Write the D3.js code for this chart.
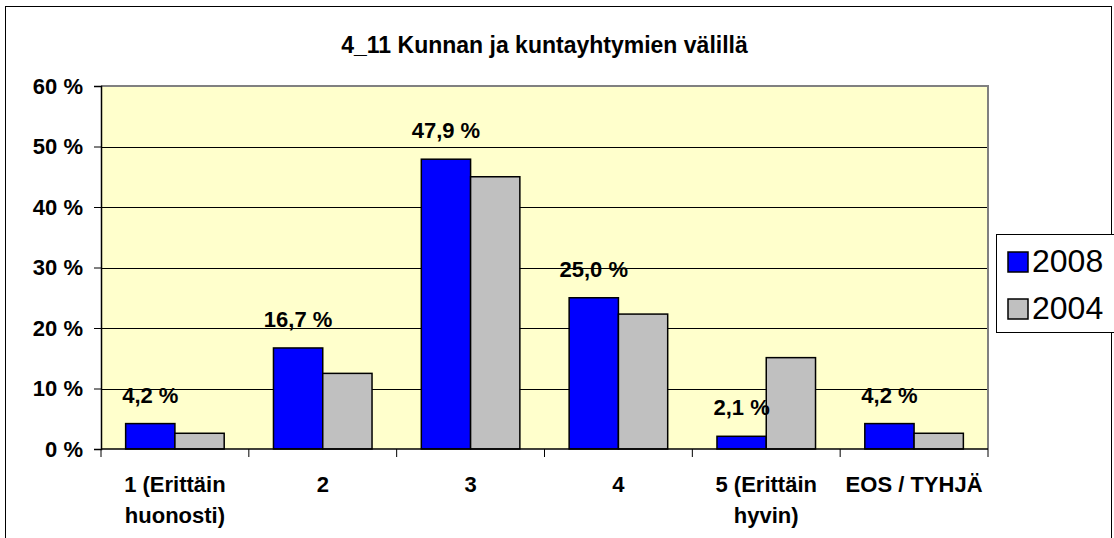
<!DOCTYPE html>
<html lang="en">
<head>
<meta charset="UTF-8">
<title>4_11 Kunnan ja kuntayhtymien välillä</title>
<script src="https://cdn.jsdelivr.net/npm/d3@7/dist/d3.min.js"></script>
<style>
  body { margin: 0; background: #fff; }
  svg text { font-family: "Liberation Sans", Arial, sans-serif; }
</style>
</head>
<body>
<div id="chart"></div>
<script>
// data
let categories = [["1 (Erittäin", "huonosti)"], ["2"], ["3"], ["4"], ["5 (Erittäin", "hyvin)"], ["EOS / TYHJÄ"]]
let series = ["2008", "2004"]
let values2008 = [4.2, 16.7, 47.9, 25.0, 2.1, 4.2]
let values2004 = [2.6, 12.5, 45.0, 22.3, 15.1, 2.6]
let yTicks = [0, 10, 20, 30, 40, 50, 60]
let colors = ["#0000ff", "#c0c0c0"]

let width = 1114, height = 538
let plot = {left: 101, right: 988, top: 86, bottom: 449}

let svg = d3.select("#chart").append("svg")
    .attr("width", width)
    .attr("height", height)

// chart area border
svg.append("rect")
    .attr("x", 5.5).attr("y", 6.5)
    .attr("width", 1106).attr("height", 545)
    .attr("fill", "#fff").attr("stroke", "#000").attr("stroke-width", 1)

let x = d3.scaleBand()
    .domain(d3.range(categories.length))
    .range([plot.left, plot.right])
let x1 = d3.scaleBand()
    .domain(series)
    .range([0, x.bandwidth()])
    .paddingOuter(0.5)
let y = d3.scaleLinear()
    .domain([0, 60])
    .range([plot.bottom, plot.top])

// plot background
svg.append("rect")
    .attr("x", plot.left).attr("y", plot.top)
    .attr("width", plot.right - plot.left).attr("height", plot.bottom - plot.top)
    .attr("fill", "#ffffcc")

// gridlines
svg.append("g")
    .selectAll("line")
    .data(yTicks.filter(d => d > 0 && d < 60))
    .enter().append("line")
    .attr("x1", plot.left).attr("x2", plot.right)
    .attr("y1", d => Math.round(y(d)) + 0.5).attr("y2", d => Math.round(y(d)) + 0.5)
    .attr("stroke", "#000").attr("stroke-width", 1)

// plot border top/right (gray)
svg.append("path")
    .attr("d", `M${plot.left},${plot.top}H${plot.right}V${plot.bottom}`)
    .attr("fill", "none").attr("stroke", "#808080").attr("stroke-width", 2)

// bars
let rows = values2008.map((v, i) => ({i: i, vals: [values2008[i], values2004[i]]}))
let groups = svg.selectAll("g.cat")
    .data(rows)
    .enter().append("g")
    .attr("class", "cat")
    .attr("transform", d => "translate(" + x(d.i) + ",0)")

groups.selectAll("rect")
    .data(d => d.vals.map((v, j) => ({s: series[j], v: v, j: j})))
    .enter().append("rect")
    .attr("x", d => x1(d.s))
    .attr("y", d => y(d.v))
    .attr("width", x1.bandwidth())
    .attr("height", d => y(0) - y(d.v))
    .attr("fill", d => colors[d.j])
    .attr("stroke", "#000")
    .attr("stroke-width", 1.5)

// data labels for 2008
groups.append("text")
    .attr("x", x1("2008") + x1.bandwidth() / 2)
    .attr("y", d => y(d.vals[0]) - 21)
    .attr("text-anchor", "middle")
    .attr("font-weight", "bold")
    .attr("font-size", 22)
    .text(d => d.vals[0].toFixed(1).replace(".", ",") + " %")

// y axis
let yAxis = svg.append("g")
    .attr("transform", "translate(" + plot.left + ",0)")
    .call(d3.axisLeft(y).tickValues(yTicks).tickSize(7).tickPadding(11).tickFormat(d => d + " %"))
yAxis.select(".domain").attr("stroke", "#000").attr("stroke-width", 1.5)
yAxis.selectAll("text")
    .attr("font-size", 22).attr("font-weight", "bold")
    .attr("font-family", "Liberation Sans, Arial, sans-serif")
    .attr("fill", "#000")

// x axis
let xAxis = svg.append("g")
    .attr("transform", "translate(0," + plot.bottom + ")")
let xTickPos = d3.range(categories.length + 1).map(i => plot.left + i * x.bandwidth())
xAxis.append("line")
    .attr("x1", plot.left).attr("x2", plot.right)
    .attr("y1", 0).attr("y2", 0)
    .attr("stroke", "#000").attr("stroke-width", 1.5)
xAxis.selectAll("line.tick")
    .data(xTickPos)
    .enter().append("line")
    .attr("class", "tick")
    .attr("x1", d => d).attr("x2", d => d)
    .attr("y1", 0).attr("y2", 8)
    .attr("stroke", "#000").attr("stroke-width", 1)
let xLabels = xAxis.selectAll("text")
    .data(categories)
    .enter().append("text")
    .attr("x", (d, i) => x(i) + x.bandwidth() / 2)
    .attr("y", 43)
    .attr("text-anchor", "middle")
    .attr("font-weight", "bold")
    .attr("font-size", 22)
xLabels.selectAll("tspan")
    .data(d => d)
    .enter().append("tspan")
    .attr("x", function () { return d3.select(this.parentNode).attr("x") })
    .attr("dy", (d, i) => i === 0 ? 0 : 31)
    .text(d => d)

// title
svg.append("text")
    .attr("x", (plot.left + plot.right) / 2)
    .attr("y", 53)
    .attr("text-anchor", "middle")
    .attr("font-weight", "bold")
    .attr("font-size", 23)
    .text("4_11 Kunnan ja kuntayhtymien välillä")

// legend
let legend = svg.append("g")
legend.append("rect")
    .attr("x", 996.5).attr("y", 234.5)
    .attr("width", 130).attr("height", 98)
    .attr("fill", "#fff").attr("stroke", "#000").attr("stroke-width", 1)
let li = legend.selectAll("g.item")
    .data(series)
    .enter().append("g")
    .attr("class", "item")
    .attr("transform", (d, i) => "translate(1008," + (252 + i * 47) + ")")
li.append("rect")
    .attr("width", 20).attr("height", 20)
    .attr("fill", (d, i) => colors[i])
    .attr("stroke", "#000").attr("stroke-width", 1.5)
li.append("text")
    .attr("x", 24).attr("y", 20)
    .attr("font-size", 32)
    .text(d => d)
</script>
</body>
</html>
